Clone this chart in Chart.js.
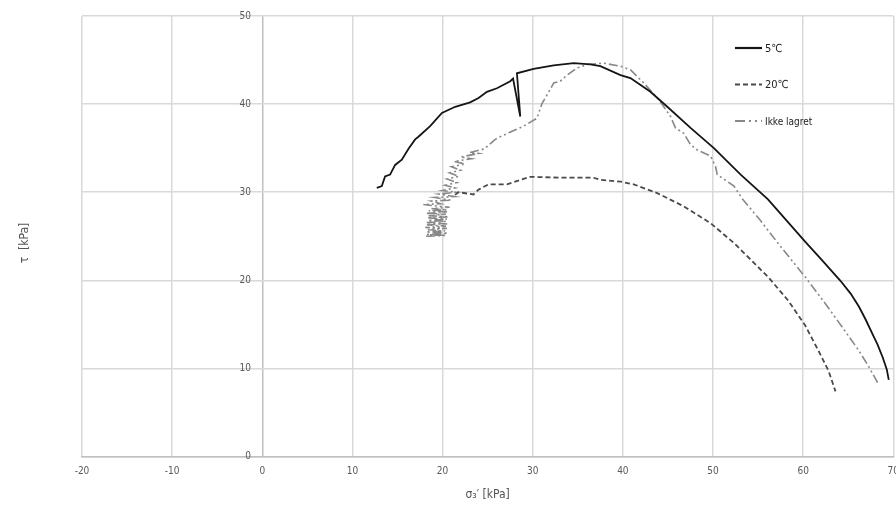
<!DOCTYPE html>
<html>
<head>
<meta charset="utf-8">
<script src="https://cdn.jsdelivr.net/npm/chart.js@4/dist/chart.umd.min.js"></script>
<style>
  html, body { margin: 0; padding: 0; background: #fff; overflow: hidden; }
  #wrap { width: 896px; height: 505px; overflow: hidden; }
</style>
</head>
<body>
<div id="wrap"><canvas id="stressPath" width="908" height="505"></canvas></div>
<script>
// axis ticks
const sigmaTicks = [-20, -10, 0, 10, 20, 30, 40, 50, 60, 70];
const tauTicks = [0, 10, 20, 30, 40, 50];

const seriesNames = ['5℃', '20℃', 'Ikke lagret'];

// 5 C
const sigma5 = [12.7, 13.26, 13.62, 14.18, 14.74, 15.48, 16.26, 16.96, 17.32, 18.62, 19.93, 21.4, 23.06, 23.99, 24.92, 26.03, 27.51, 27.82, 28.62, 28.25, 30.1, 32.33, 34.55, 36.4, 37.51, 39.74, 40.84, 43.06, 44.93, 47.51, 50.1, 53.07, 56.1, 60.22, 62.09, 64.14, 65.27, 66.2, 66.96, 67.7, 68.26, 68.83, 69.28, 69.5];
const tau5 = [30.5, 30.7, 31.8, 32.0, 33.1, 33.7, 35.0, 36.0, 36.3, 37.5, 39.0, 39.7, 40.2, 40.7, 41.4, 41.8, 42.6, 42.9, 38.6, 43.5, 44.0, 44.4, 44.65, 44.5, 44.3, 43.3, 42.95, 41.4, 39.7, 37.3, 35.0, 32.0, 29.2, 24.4, 22.3, 19.95, 18.5, 17.0, 15.5, 13.9, 12.7, 11.25, 9.9, 8.7];

// 20 C
const sigma20 = [21.38, 21.77, 23.44, 23.99, 25.11, 27.15, 28.62, 29.73, 33.07, 36.73, 37.51, 39.74, 41.21, 43.81, 46.76, 49.73, 52.36, 56.1, 58.35, 60.22, 61.71, 62.83, 63.59];
const tau20 = [29.7, 30.0, 29.75, 30.3, 30.9, 30.9, 31.4, 31.75, 31.65, 31.65, 31.4, 31.2, 30.9, 29.9, 28.4, 26.5, 24.2, 20.4, 17.7, 14.9, 12.0, 9.7, 7.4];

// ikke lagret (noisy start, then the smooth part)
const sigmaIkke = [18.17, 20.38, 18.27, 20.58, 18.17, 20.28, 18.37, 20.48, 18.07, 20.38, 18.27, 20.58, 18.17, 20.38, 18.37, 20.48, 18.27, 20.68, 18.47, 20.38, 18.27, 20.58, 18.47, 20.48, 18.77, 20.78, 17.87, 19.78, 18.77, 20.98, 19.17, 21.28, 19.57, 21.49, 19.98, 21.39, 20.28, 21.59, 20.48, 21.79, 20.78, 21.99, 20.98, 22.49, 21.28, 23.2, 21.99, 24.0, 23.0, 24.6, 25.85, 26.4, 27.46, 28.99, 30.47, 31.04, 31.4, 32.33, 33.07, 33.81, 34.92, 36.04, 37.88, 39.74, 40.84, 42.32, 43.99, 45.29, 45.84, 46.76, 47.51, 48.25, 49.73, 50.28, 50.47, 52.33, 53.29, 55.18, 57.22, 60.22, 62.47, 64.33, 66.2, 67.34, 68.26];
const tauIkke = [25.0, 25.1, 25.2, 25.35, 25.5, 25.6, 25.75, 25.9, 26.0, 26.15, 26.3, 26.4, 26.55, 26.7, 26.8, 26.95, 27.1, 27.2, 27.35, 27.5, 27.6, 27.75, 27.9, 28.0, 28.15, 28.3, 28.6, 28.7, 29.0, 29.1, 29.4, 29.5, 29.8, 30.0, 30.2, 30.5, 30.8, 31.1, 31.5, 31.8, 32.2, 32.5, 32.9, 33.2, 33.5, 33.8, 34.0, 34.4, 34.5, 34.9, 36.0, 36.3, 36.8, 37.5, 38.4, 40.1, 40.7, 42.4, 42.6, 43.3, 44.1, 44.5, 44.65, 44.3, 43.9, 42.4, 40.5, 38.6, 37.3, 36.7, 35.4, 34.8, 34.1, 32.95, 32.0, 30.7, 29.2, 26.9, 24.2, 20.4, 17.35, 14.7, 12.0, 10.1, 8.4];

const toPoints = (xs, ys) => xs.map((x, i) => ({ x: x, y: ys[i] }));

const labelFont = "'DejaVu Sans Condensed', 'Liberation Sans Narrow', 'Open Sans', sans-serif";

// legend inside the plot + rotated y title
const sideTexts = {
    id: 'sideTexts',
    afterDraw(chart) {
        const ctx = chart.ctx;
        ctx.save();
        chart.data.datasets.forEach((ds, i) => {
            const y = 48 + i * 36.5;
            ctx.beginPath();
            ctx.setLineDash(ds.legendDash || ds.borderDash || []);
            ctx.strokeStyle = ds.borderColor;
            ctx.lineWidth = i === 0 ? 2.2 : 1.8;
            ctx.moveTo(735, y);
            ctx.lineTo(762, y);
            ctx.stroke();
            ctx.setLineDash([]);
            ctx.fillStyle = '#222';
            ctx.font = (i === 2 ? '10px ' : '11px ') + labelFont;
            ctx.textBaseline = 'middle';
            ctx.textAlign = 'left';
            ctx.fillText(ds.label, 765, y + 1);
        });
        ctx.translate(25, 243);
        ctx.rotate(-Math.PI / 2);
        ctx.fillStyle = '#555';
        ctx.font = '12px ' + labelFont;
        ctx.textAlign = 'center';
        ctx.textBaseline = 'middle';
        ctx.fillText('τ  [kPa]', 0, 0);
        ctx.restore();
    }
};

new Chart(document.getElementById('stressPath'), {
    type: 'scatter',
    data: {
        datasets: [
            {
                label: seriesNames[0],
                data: toPoints(sigma5, tau5),
                borderColor: '#151515',
                borderWidth: 1.8
            },
            {
                label: seriesNames[1],
                data: toPoints(sigma20, tau20),
                borderColor: '#4a4a4a',
                borderWidth: 1.8,
                borderDash: [5, 3]
            },
            {
                label: seriesNames[2],
                data: toPoints(sigmaIkke, tauIkke),
                borderColor: '#888888',
                borderWidth: 1.6,
                borderDash: [9, 3, 2, 3, 2, 3],
                legendDash: [10, 4, 2, 4, 2, 4]
            }
        ]
    },
    options: {
        responsive: false,
        animation: false,
        datasets: {
            scatter: { showLine: true, pointRadius: 0, tension: 0, fill: false }
        },
        layout: { padding: { left: 82, right: 0, top: 16, bottom: 1 } },
        plugins: {
            legend: { display: false },
            tooltip: { enabled: false }
        },
        scales: {
            x: {
                type: 'linear',
                min: sigmaTicks[0],
                max: sigmaTicks[sigmaTicks.length - 1],
                afterBuildTicks: axis => { axis.ticks = sigmaTicks.map(v => ({ value: v })); },
                grid: {
                    color: c => (c.tick && c.tick.value === 0 ? '#bfbfbf' : '#d9d9d9'),
                    lineWidth: 1.5,
                    drawTicks: false
                },
                border: { color: '#bfbfbf', width: 1.5 },
                ticks: { color: '#595959', padding: 9, font: { size: 10, family: labelFont } },
                title: {
                    display: true,
                    text: 'σ₃′ [kPa]',
                    color: '#555',
                    font: { size: 12, family: labelFont },
                    padding: { top: 1, bottom: 2 }
                }
            },
            y: {
                type: 'linear',
                // labels sit a little left of the sigma = 0 line, like the original
                position: { x: -1.25 },
                min: tauTicks[0],
                max: tauTicks[tauTicks.length - 1],
                afterBuildTicks: axis => { axis.ticks = tauTicks.map(v => ({ value: v })); },
                grid: { color: '#d9d9d9', lineWidth: 1.5, drawTicks: false },
                border: { display: false },
                ticks: { color: '#595959', font: { size: 10, family: labelFont } }
            }
        }
    },
    plugins: [sideTexts]
});
</script>
</body>
</html>
